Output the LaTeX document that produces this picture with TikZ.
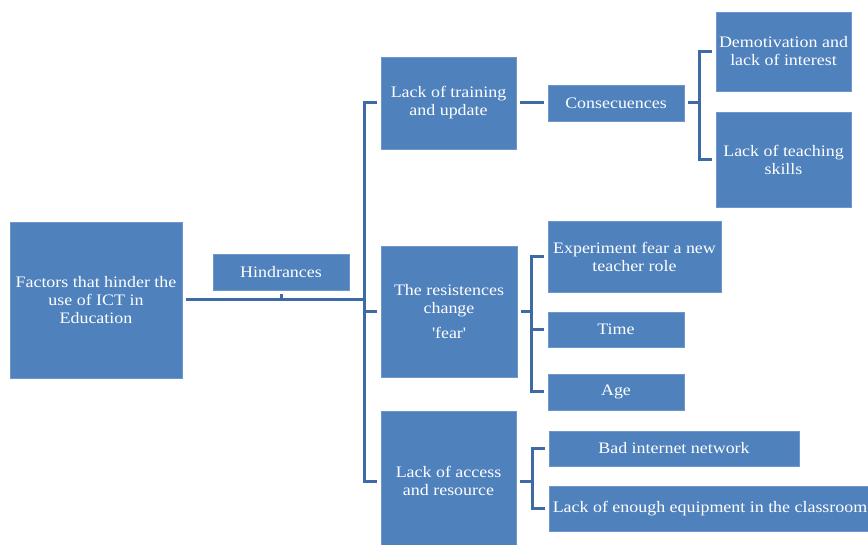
\documentclass[tikz,border=0pt]{standalone}
\usepackage{fontspec}
\setmainfont{Liberation Serif}[FakeStretch=1.12]
\definecolor{boxfill}{HTML}{4F81BD}
\definecolor{boxedge}{HTML}{7097CC}
\definecolor{linec}{HTML}{3E6BA6}
\begin{document}
\begin{tikzpicture}[x=1pt,y=-1pt,
  blk/.style={rectangle, fill=boxfill, draw=boxedge, line width=0.8pt, text=white,
    align=center, inner sep=0pt, font=\fontsize{16}{18}\selectfont},
  conn/.style={draw=linec, line width=3pt}]
\clip (0,0) rectangle (868,545);
\fill[white] (0,0) rectangle (868,545);
% nodes
\node[blk, minimum width=172, minimum height=156] (main) at (96,300) {Factors that hinder the\\use of ICT in\\Education};
\node[blk, minimum width=136, minimum height=36] (hind) at (281,272) {Hindrances};
\node[blk, minimum width=135, minimum height=92] (train) at (448.5,103) {Lack of training\\and update};
\node[blk, minimum width=136, minimum height=131] (resist) at (449,311.5) {The resistences\\change\\[7pt]\textquotesingle fear\textquotesingle};
\node[blk, minimum width=135, minimum height=140] (access) at (448.5,481) {Lack of access\\and resource};
\node[blk, minimum width=136, minimum height=36] (cons) at (616,103) {Consecuences};
\node[blk, minimum width=135, minimum height=79] (demo) at (783.5,51.5) {Demotivation and\\lack of interest};
\node[blk, minimum width=135, minimum height=95] (teach) at (783.5,159.5) {Lack of teaching\\skills};
\node[blk, minimum width=173, minimum height=71] (exper) at (634.5,256.5) {Experiment fear a new\\teacher role};
\node[blk, minimum width=136, minimum height=35] (time) at (616,329.5) {Time};
\node[blk, minimum width=136, minimum height=36] (age) at (616,392) {Age};
\node[blk, minimum width=250, minimum height=35] (bad) at (674,448.5) {Bad internet network};
\node[blk, minimum width=322, minimum height=45] (equip) at (710,508.5) {Lack of enough equipment in the classroom};
% connectors
\coordinate (busmid) at (365,300);
\draw[conn] ([xshift=4pt]main.east) -- (busmid);
\draw[conn] ([yshift=-4pt]hind.south) -- (hind.south |- busmid);
\draw[conn] ([xshift=-4pt]train.west) -- ++(-12,0) |- ([xshift=-4pt]access.west);
\draw[conn] ([xshift=-4pt]resist.west) -- ++(-12,0);
\draw[conn] ([xshift=4pt]train.east) -- ([xshift=-4pt]cons.west);
\draw[conn] ([xshift=4pt]cons.east) -- ++(12,0);
\draw[conn] ([xshift=-4pt]demo.west) -- ++(-12,0) |- ([xshift=-4pt]teach.west);
\draw[conn] ([xshift=4pt]resist.east) -- ++(12,0);
\draw[conn] ([xshift=-4pt]exper.west) -- ++(-12,0) |- ([xshift=-4pt]age.west);
\draw[conn] ([xshift=-4pt]time.west) -- ++(-12,0);
\draw[conn] ([xshift=4pt]access.east) -- ++(12,0);
\draw[conn] ([xshift=-4pt]bad.west) -- ++(-12,0) |- ([xshift=-4pt]equip.west);
\end{tikzpicture}
\end{document}
